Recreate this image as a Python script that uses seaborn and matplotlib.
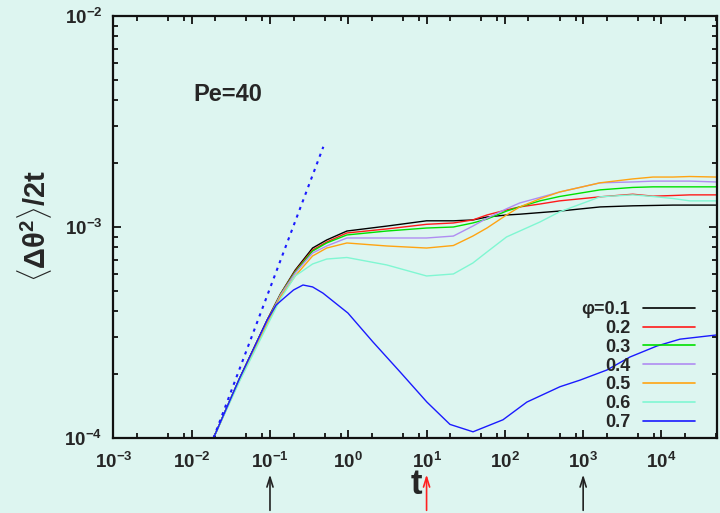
import numpy as np
import pandas as pd
import seaborn as sns
import matplotlib.pyplot as plt
from matplotlib.lines import Line2D
from matplotlib.ticker import LogLocator, FuncFormatter, NullFormatter

# time grid shared by phi = 0.1 ... 0.6
t = [0.019, 0.041, 0.092, 0.136, 0.21, 0.35, 0.53, 0.96, 3.1, 10, 22, 39, 59,
     105, 155, 280, 500, 1650, 4300, 7800, 14000, 23000, 50000]

msd_01 = [1.00e-4, 1.92e-4, 3.62e-4, 4.81e-4, 6.25e-4, 7.95e-4, 8.68e-4, 9.57e-4, 1.01e-3,
          1.07e-3, 1.07e-3, 1.08e-3, 1.115e-3, 1.14e-3, 1.15e-3, 1.17e-3, 1.19e-3,
          1.245e-3, 1.26e-3, 1.265e-3, 1.27e-3, 1.27e-3, 1.27e-3]
msd_02 = [1.00e-4, 1.92e-4, 3.62e-4, 4.81e-4, 6.18e-4, 7.78e-4, 8.49e-4, 9.37e-4, 9.79e-4,
          1.03e-3, 1.045e-3, 1.08e-3, 1.14e-3, 1.205e-3, 1.245e-3, 1.285e-3, 1.33e-3,
          1.39e-3, 1.43e-3, 1.40e-3, 1.41e-3, 1.42e-3, 1.42e-3]
msd_03 = [1.00e-4, 1.92e-4, 3.58e-4, 4.79e-4, 6.12e-4, 7.69e-4, 8.40e-4, 9.17e-4, 9.57e-4,
          9.89e-4, 1.00e-3, 1.045e-3, 1.09e-3, 1.19e-3, 1.245e-3, 1.33e-3, 1.395e-3,
          1.50e-3, 1.54e-3, 1.55e-3, 1.55e-3, 1.55e-3, 1.55e-3]
msd_04 = [1.00e-4, 1.91e-4, 3.55e-4, 4.76e-4, 6.05e-4, 7.53e-4, 8.13e-4, 8.87e-4, 8.87e-4,
          8.87e-4, 9.06e-4, 1.01e-3, 1.10e-3, 1.22e-3, 1.30e-3, 1.38e-3, 1.465e-3,
          1.62e-3, 1.635e-3, 1.65e-3, 1.65e-3, 1.65e-3, 1.635e-3]
msd_05 = [1.00e-4, 1.88e-4, 3.47e-4, 4.66e-4, 5.86e-4, 7.29e-4, 7.95e-4, 8.40e-4, 8.13e-4,
          7.95e-4, 8.17e-4, 9.06e-4, 9.89e-4, 1.14e-3, 1.245e-3, 1.36e-3, 1.465e-3,
          1.62e-3, 1.69e-3, 1.725e-3, 1.725e-3, 1.735e-3, 1.725e-3]
msd_06 = [1.00e-4, 1.86e-4, 3.40e-4, 4.56e-4, 5.86e-4, 6.68e-4, 7.05e-4, 7.17e-4, 6.61e-4,
          5.86e-4, 5.99e-4, 6.75e-4, 7.61e-4, 8.97e-4, 9.57e-4, 1.056e-3, 1.18e-3,
          1.39e-3, 1.42e-3, 1.395e-3, 1.365e-3, 1.33e-3, 1.33e-3]

# phi = 0.7 has its own time points
t_07 = [0.019, 0.041, 0.092, 0.12, 0.156, 0.2, 0.264, 0.35, 0.475, 0.99, 2.07, 4.57,
        10.1, 19.9, 39.2, 94.6, 191, 506, 910, 2010, 3960, 8770, 17200, 51200]
msd_07 = [1.00e-4, 1.92e-4, 3.62e-4, 4.27e-4, 4.65e-4, 5.03e-4, 5.31e-4, 5.20e-4,
          4.86e-4, 3.91e-4, 2.85e-4, 2.06e-4, 1.48e-4, 1.16e-4, 1.07e-4, 1.22e-4,
          1.48e-4, 1.75e-4, 1.88e-4, 2.10e-4, 2.42e-4, 2.73e-4, 2.94e-4, 3.08e-4]

phi = ['0.1', '0.2', '0.3', '0.4', '0.5', '0.6', '0.7']
colors = ['#000000', '#ff1a1a', '#00e000', '#b08cf2', '#ffa412', '#80f7d2', '#1a1aff']

# ballistic guide line
ballistic_t = [0.019, 0.48]
ballistic_y = [1.0e-4, 2.4e-3]

arrow_t = [0.1, 10, 1000]
arrow_colors = ['#222222', '#ff2020', '#222222']

bg = '#ddf5f0'

frames = []
for p, tt, yy in zip(phi, [t] * 6 + [t_07], [msd_01, msd_02, msd_03, msd_04, msd_05, msd_06, msd_07]):
    frames.append(pd.DataFrame({'t': tt, 'msd': yy, 'phi': p}))
df = pd.concat(frames, ignore_index=True)

sns.set_style('ticks')
plt.rcParams['font.family'] = ['Liberation Sans', 'DejaVu Sans']
plt.rcParams['font.weight'] = 'bold'
plt.rcParams['mathtext.fontset'] = 'custom'
plt.rcParams['mathtext.rm'] = 'Liberation Sans:bold'
plt.rcParams['mathtext.it'] = 'Liberation Sans:bold:italic'
plt.rcParams['mathtext.bf'] = 'Liberation Sans:bold'

fig, ax = plt.subplots(figsize=(7.2, 5.13), dpi=100)
fig.subplots_adjust(left=0.1575, right=0.9958, bottom=0.1462, top=0.9688)
fig.patch.set_facecolor(bg)
ax.set_facecolor(bg)

sns.lineplot(data=df, x='t', y='msd', hue='phi', palette=colors, linewidth=1.0,
             estimator=None, legend=False, ax=ax)
ax.plot(ballistic_t, ballistic_y, color='#1a1aff', lw=1.5, linestyle=(0, (1.5, 2.4)))

ax.set_xscale('log')
ax.set_yscale('log')
ax.set_xlim(1e-3, 5.12e4)
ax.set_ylim(1e-4, 1e-2)


def pow_label(v, pos):
    e = int(round(np.log10(v)))
    return r'$10^{%d}$' % e


ax.xaxis.set_major_locator(LogLocator(base=10, numticks=20))
ax.xaxis.set_minor_locator(LogLocator(base=10, subs=[2, 5, 8], numticks=20))
ax.yaxis.set_major_locator(LogLocator(base=10, numticks=10))
ax.yaxis.set_minor_locator(LogLocator(base=10, subs=range(2, 10), numticks=10))
ax.xaxis.set_major_formatter(FuncFormatter(pow_label))
ax.yaxis.set_major_formatter(FuncFormatter(pow_label))
ax.xaxis.set_minor_formatter(NullFormatter())
ax.yaxis.set_minor_formatter(NullFormatter())

ax.tick_params(which='both', direction='in', top=True, right=True, width=1.3, color='#111111')
ax.tick_params(which='major', length=6, labelsize=13.5)
ax.tick_params(axis='x', which='major', pad=10)
ax.tick_params(axis='y', which='major', pad=8)
ax.tick_params(which='minor', length=3.3)
for s in ax.spines.values():
    s.set_linewidth(1.6)
    s.set_color('#111111')

ax.set_xlabel('')
ax.set_ylabel('')
fig.text(35 / 720, 1 - 226 / 513, r'$\langle\mathrm{\Delta\theta}^{2}\rangle/\mathrm{2t}$',
         rotation=90, ha='center', va='center', fontsize=21)
fig.text(416 / 720, 1 - 485 / 513, 't', ha='center', va='center', fontsize=25, fontweight='bold')
ax.text(0.132, 0.815, 'Pe=40', transform=ax.transAxes, ha='left', va='center',
        fontsize=17, fontweight='bold')

for at, ac in zip(arrow_t, arrow_colors):
    ax.annotate('', xy=(at, -0.08), xycoords=('data', 'axes fraction'),
                xytext=(at, -0.178), textcoords=('data', 'axes fraction'),
                arrowprops=dict(arrowstyle='->,head_length=0.7,head_width=0.22', color=ac, lw=1.2),
                annotation_clip=False)

handles = [Line2D([], [], color=c, lw=1.2) for c in colors]
labels = ['\u03c6=' + phi[0]] + phi[1:]
ax.legend(handles, labels, loc='lower right', bbox_to_anchor=(0.9636, 0.0166),
          markerfirst=False, frameon=False, fontsize=13, handlelength=2.9,
          handletextpad=0.7, labelspacing=0.1, borderpad=0, borderaxespad=0)

plt.savefig('out.png', dpi=100, facecolor=bg)
plt.close()
